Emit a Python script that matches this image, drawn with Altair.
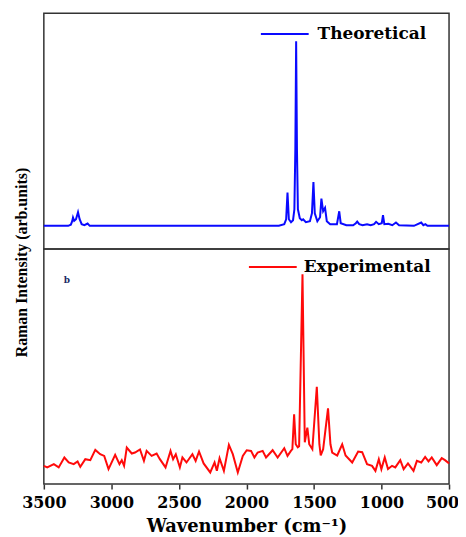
import altair as alt
import pandas as pd

# ---- data ----
theo_wn = [3500, 3320, 3300, 3290, 3284, 3275, 3262, 3247, 3235, 3220, 3200, 3176, 3160,
           1760, 1720, 1706, 1696, 1686, 1670, 1655, 1645, 1638, 1632, 1626, 1619, 1605,
           1590, 1580, 1560, 1530, 1515, 1504, 1494, 1475, 1455, 1445, 1432, 1418, 1405,
           1380, 1330, 1313, 1302, 1260, 1210, 1190, 1180, 1165, 1140, 1107, 1080, 1055,
           1040, 1020, 998, 989, 979, 950, 920, 893, 870, 760, 706, 690, 675, 660, 500]
theo_int = [23.4, 23.4, 24.5, 28, 31.7, 28.5, 30, 37, 30, 25, 24, 25.7, 23.4,
            23.4, 25, 30, 56.7, 30, 27, 29, 40, 100, 208.7, 100, 40, 31,
            29, 30, 27, 28, 36, 67.4, 36, 28, 32, 50.7, 38, 41.4, 28,
            25, 25, 38, 26, 24, 24, 26, 27.7, 25, 24, 25, 24, 25,
            27.4, 25, 26, 34, 25, 25.5, 24, 26.7, 24, 23.4, 26.7, 24, 25, 23.4, 23.4]

exp_wn = [3500, 3475, 3426, 3390, 3348, 3316, 3279, 3250, 3230, 3193, 3156, 3119, 3083,
          3053, 3021, 2972, 2940, 2923, 2906, 2886, 2849, 2825, 2788, 2759, 2739, 2702,
          2665, 2641, 2599, 2562, 2543, 2523, 2493, 2474, 2444, 2400, 2376, 2351, 2317,
          2268, 2236, 2219, 2199, 2167, 2130, 2101, 2064, 2027, 1998, 1966, 1941, 1917,
          1880, 1855, 1806, 1769, 1720, 1696, 1671, 1660, 1647, 1635, 1620, 1610, 1585,
          1568, 1549, 1535, 1512, 1479, 1460, 1450, 1432, 1396, 1378, 1365, 1328, 1291,
          1266, 1217, 1173, 1143, 1107, 1070, 1045, 1020, 1001, 976, 952, 922, 898, 861,
          836, 804, 763, 738, 706, 677, 652, 628, 591, 554, 530, 505, 500]
exp_int = [18.3, 16.7, 20, 16.7, 26.7, 21.7, 20, 22.7, 17.3, 25, 24, 34.3, 30,
           28.3, 15, 29.3, 20, 24, 18.3, 36.7, 30.7, 31.7, 34.7, 23.3, 33.3, 28.3,
           30.7, 25, 16.7, 33.3, 25, 30, 16.7, 26.7, 21.7, 30, 23.3, 32.7, 20.7,
           11.7, 21.7, 13.3, 26, 13.3, 39.3, 30, 11.7, 28.3, 34, 33.3, 26.7, 31.7,
           33.3, 26.7, 34, 26.7, 36, 28.3, 33.3, 35, 70, 40, 37, 38, 210.7,
           42, 56.7, 40, 35, 97.7, 40, 28.7, 35, 76, 40, 31.7, 28.7, 40,
           28.7, 21.7, 32.7, 32, 20, 18.3, 13.3, 25, 15, 26.7, 15, 18.3, 16.7, 24,
           15, 20.7, 13.3, 23.3, 21.7, 27.3, 22.7, 26.7, 19, 26, 24, 21.3, 22]

x_ticks = [3500, 3000, 2500, 2000, 1500, 1000, 500]
series_names = ["Theoretical", "Experimental"]
series_colors = ["#0a0aff", "#ff0a0a"]
panel_label = ["b"]

theo_df = pd.DataFrame({"wn": theo_wn, "I": theo_int, "series": series_names[0]})
exp_df = pd.DataFrame({"wn": exp_wn, "I": exp_int, "series": series_names[1]})

SERIF = "DejaVu Serif"

def legend(x, y, offset):
    return alt.Legend(title=None, orient="none", legendX=x, legendY=y,
                      symbolType="stroke", symbolSize=2304, symbolStrokeWidth=2,
                      labelFont=SERIF, labelFontSize=17, labelFontWeight="bold",
                      labelColor="black", labelOffset=offset, padding=0)

xscale = alt.Scale(domain=[500, 3500], reverse=True, nice=False, zero=False)

top = alt.Chart(theo_df).mark_line(strokeWidth=2).encode(
    x=alt.X("wn:Q", scale=xscale, axis=None),
    y=alt.Y("I:Q", scale=alt.Scale(domain=[0, 237], nice=False), axis=None),
    color=alt.Color("series:N",
                    scale=alt.Scale(domain=[series_names[0]], range=[series_colors[0]]),
                    legend=legend(217, -4, 8)),
).properties(width=407, height=237)

bottom_line = alt.Chart(exp_df).mark_line(strokeWidth=2).encode(
    x=alt.X("wn:Q", scale=xscale,
            axis=alt.Axis(values=x_ticks, format="d", grid=False, domain=False,
                          labelFont=SERIF, labelFontSize=16, labelFontWeight="bold",
                          labelColor="black", labelPadding=6, labelFlush=False,
                          labelOffset={"condition": {"test": "datum.value === 500",
                                                     "value": -7}, "value": 0},
                          tickSize=5, tickColor="#333", tickWidth=1.5,
                          title="Wavenumber (cm\u207b\u00b9)", titleFont=SERIF,
                          titleFontSize=18, titleFontWeight="bold", titleColor="black",
                          titlePadding=7)),
    y=alt.Y("I:Q", scale=alt.Scale(domain=[0, 236], nice=False),
            axis=alt.Axis(ticks=False, labels=False, domain=False, grid=False,
                          title="Raman Intensity (arb.units)",
                          titleFont="Liberation Serif", titleFontSize=16,
                          titleFontWeight="bold", titleColor="black",
                          titleX=-22, titleY=13, titleAngle=270,
                          titleAlign="center", titleBaseline="middle")),
    color=alt.Color("series:N",
                    scale=alt.Scale(domain=[series_names[1]], range=[series_colors[1]]),
                    legend=legend(205, -7, 6)),
)

b_text = alt.Chart(pd.DataFrame({"t": panel_label})).mark_text(
    font=SERIF, fontSize=9, fontWeight="bold", color="#1c2a66", align="left",
    baseline="middle").encode(x=alt.value(20), y=alt.value(31), text="t:N")

bottom = alt.layer(bottom_line, b_text).properties(width=407, height=236)

chart = alt.vconcat(top, bottom, spacing=0, bounds="flush").resolve_scale(
    color="independent").resolve_legend(color="independent").properties(
    padding={"left": 5, "top": -1, "right": -2, "bottom": 0}, background="white"
).configure_view(stroke="#333", strokeWidth=1.5)

chart.save("out.html", embed_options={"renderer": "svg", "actions": False})
